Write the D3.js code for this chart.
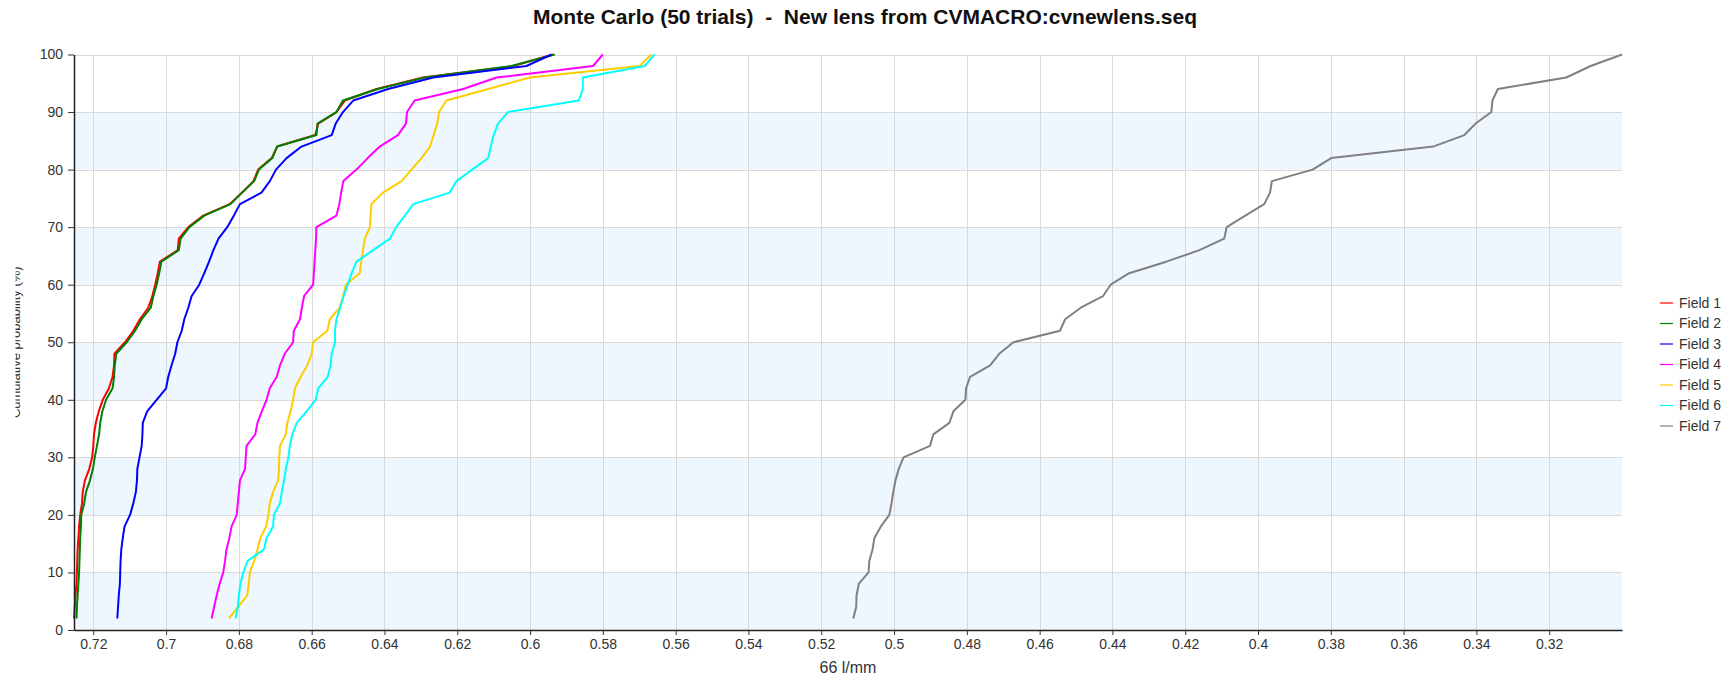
<!DOCTYPE html>
<html>
<head>
<meta charset="utf-8">
<script src="https://cdn.jsdelivr.net/npm/d3@7/dist/d3.min.js"></script>
<style>
  html, body { margin: 0; padding: 0; background: #ffffff; }
  svg text { font-family: "Liberation Sans", Arial, Helvetica, sans-serif; }
</style>
</head>
<body>
<svg id="chart" width="1730" height="681"></svg>
<script>
// Cumulative probability levels (%) for the 50 Monte Carlo trials
const probabilities = d3.range(2, 101, 2);

// MTF at 66 l/mm, sorted by cumulative probability, one array per field
const field1 = [0.7253, 0.7251, 0.7249, 0.7246, 0.7245, 0.7244, 0.7243, 0.7241, 0.7239, 0.7236,
                0.7231, 0.7229, 0.7223, 0.7211, 0.7203, 0.7200, 0.7198, 0.7193, 0.7185, 0.7174,
                0.7157, 0.7147, 0.7143, 0.7142, 0.7113, 0.7090, 0.7072, 0.7049, 0.7038, 0.7030,
                0.7023, 0.7017, 0.6968, 0.6965, 0.6939, 0.6898, 0.6825, 0.6792, 0.6760, 0.6747,
                0.6710, 0.6695, 0.6590, 0.6582, 0.6532, 0.6509, 0.6422, 0.6294, 0.6047, 0.5937];
const field2 = [0.7246, 0.7245, 0.7243, 0.7241, 0.7239, 0.7238, 0.7237, 0.7236, 0.7234, 0.7233,
                0.7225, 0.7220, 0.7209, 0.7201, 0.7196, 0.7190, 0.7184, 0.7181, 0.7175, 0.7165,
                0.7147, 0.7143, 0.7141, 0.7137, 0.7108, 0.7085, 0.7067, 0.7042, 0.7035, 0.7026,
                0.7019, 0.7013, 0.6965, 0.6960, 0.6936, 0.6895, 0.6823, 0.6791, 0.6758, 0.6745,
                0.6708, 0.6695, 0.6587, 0.6584, 0.6532, 0.6514, 0.6418, 0.6289, 0.6051, 0.5932];
const field3 = [0.7134, 0.7132, 0.7130, 0.7127, 0.7126, 0.7125, 0.7123, 0.7119, 0.7114, 0.7099,
                0.7090, 0.7083, 0.7080, 0.7079, 0.7073, 0.7067, 0.7065, 0.7064, 0.7052, 0.7026,
                0.7000, 0.6994, 0.6985, 0.6975, 0.6969, 0.6957, 0.6950, 0.6939, 0.6930, 0.6909,
                0.6895, 0.6882, 0.6870, 0.6856, 0.6832, 0.6814, 0.6797, 0.6738, 0.6715, 0.6698,
                0.6669, 0.6628, 0.6545, 0.6534, 0.6514, 0.6486, 0.6390, 0.6266, 0.6010, 0.5941];
const field4 = [0.6875, 0.6868, 0.6861, 0.6853, 0.6843, 0.6838, 0.6834, 0.6826, 0.6820, 0.6806,
                0.6803, 0.6800, 0.6797, 0.6783, 0.6781, 0.6779, 0.6755, 0.6749, 0.6737, 0.6724,
                0.6715, 0.6696, 0.6687, 0.6674, 0.6651, 0.6649, 0.6632, 0.6627, 0.6621, 0.6596,
                0.6594, 0.6592, 0.6590, 0.6588, 0.6587, 0.6532, 0.6524, 0.6519, 0.6513, 0.6477,
                0.6446, 0.6413, 0.6363, 0.6341, 0.6338, 0.6317, 0.6184, 0.6092, 0.5827, 0.5800];
const field5 = [0.6827, 0.6802, 0.6777, 0.6773, 0.6770, 0.6758, 0.6749, 0.6741, 0.6725, 0.6719,
                0.6715, 0.6706, 0.6692, 0.6690, 0.6689, 0.6687, 0.6671, 0.6667, 0.6658, 0.6651,
                0.6646, 0.6630, 0.6612, 0.6600, 0.6596, 0.6557, 0.6550, 0.6523, 0.6514, 0.6506,
                0.6468, 0.6464, 0.6459, 0.6454, 0.6440, 0.6438, 0.6436, 0.6404, 0.6353, 0.6326,
                0.6298, 0.6275, 0.6265, 0.6255, 0.6250, 0.6230, 0.6115, 0.6001, 0.5699, 0.5667];
const field6 = [0.6809, 0.6803, 0.6800, 0.6796, 0.6788, 0.6776, 0.6731, 0.6724, 0.6706, 0.6704,
                0.6687, 0.6682, 0.6676, 0.6671, 0.6664, 0.6660, 0.6653, 0.6641, 0.6614, 0.6589,
                0.6582, 0.6556, 0.6548, 0.6545, 0.6536, 0.6536, 0.6532, 0.6522, 0.6512, 0.6501,
                0.6490, 0.6477, 0.6431, 0.6385, 0.6368, 0.6344, 0.6321, 0.6221, 0.6202, 0.6159,
                0.6115, 0.6108, 0.6100, 0.6088, 0.6061, 0.5866, 0.5855, 0.5855, 0.5685, 0.5658];
const field7 = [0.5112, 0.5104, 0.5103, 0.5097, 0.5070, 0.5068, 0.5059, 0.5054, 0.5036, 0.5013,
                0.5007, 0.5002, 0.4996, 0.4987, 0.4974, 0.4901, 0.4892, 0.4848, 0.4837, 0.4804,
                0.4802, 0.4791, 0.4736, 0.4711, 0.4672, 0.4544, 0.4530, 0.4487, 0.4426, 0.4405,
                0.4354, 0.4252, 0.4161, 0.4093, 0.4086, 0.4035, 0.3983, 0.3967, 0.3962, 0.3850,
                0.3799, 0.3519, 0.3433, 0.3402, 0.3359, 0.3356, 0.3341, 0.3153, 0.3086, 0.3000];

const seriesNames = ["Field 1", "Field 2", "Field 3", "Field 4", "Field 5", "Field 6", "Field 7"];
const seriesColors = ["#ff0000", "#008000", "#0000ff", "#ff00ff", "#ffcc00", "#00ffff", "#808080"];
const seriesValues = [field1, field2, field3, field4, field5, field6, field7];

const xTickValues = [0.72, 0.70, 0.68, 0.66, 0.64, 0.62, 0.60, 0.58, 0.56, 0.54, 0.52,
                     0.50, 0.48, 0.46, 0.44, 0.42, 0.40, 0.38, 0.36, 0.34, 0.32];
const yTickValues = [0, 10, 20, 30, 40, 50, 60, 70, 80, 90, 100];

const titleText = "Monte Carlo (50 trials)  -  New lens from CVMACRO:cvnewlens.seq";
const xTitle = "66 l/mm";
const yTitle = "Cumulative probability (%)";

// ---- layout ----
const plot = { left: 74, right: 1622, top: 54.5, bottom: 630 };
const svg = d3.select("#chart");

const allValues = seriesValues.flat();
const x = d3.scaleLinear()
  .domain([d3.max(allValues), d3.min(allValues)])   // MTF decreases to the right
  .range([plot.left, plot.right]);
const y = d3.scaleLinear().domain([0, 100]).range([plot.bottom, plot.top]);

// alternating horizontal bands
const bandStarts = yTickValues.filter(v => v < 100 && (v / 10) % 2 === 0);
svg.append("g").selectAll("rect").data(bandStarts).join("rect")
  .attr("x", plot.left)
  .attr("width", plot.right - plot.left)
  .attr("y", d => y(d + 10))
  .attr("height", d => y(d) - y(d + 10))
  .attr("fill", "#eef6fe");

// grid lines
const grid = svg.append("g").attr("stroke", "#d9d9d9").attr("stroke-width", 1).attr("shape-rendering", "crispEdges");
grid.selectAll("line.v").data(xTickValues).join("line").attr("class", "v")
  .attr("x1", d => Math.round(x(d)) + 0.5).attr("x2", d => Math.round(x(d)) + 0.5)
  .attr("y1", plot.top).attr("y2", plot.bottom);
grid.selectAll("line.h").data(yTickValues.filter(v => v > 0)).join("line").attr("class", "h")
  .attr("x1", plot.left).attr("x2", plot.right)
  .attr("y1", d => Math.round(y(d)) + 0.5).attr("y2", d => Math.round(y(d)) + 0.5);

// series lines
const line = d3.line()
  .x(d => x(d.value))
  .y(d => y(d.p));
const lines = svg.append("g").attr("fill", "none").attr("stroke-width", 2).attr("stroke-linejoin", "round");
seriesValues.forEach((vals, i) => {
  const pts = vals.map((v, k) => ({ value: v, p: probabilities[k] }));
  lines.append("path").datum(pts)
    .attr("stroke", seriesColors[i])
    .attr("d", line);
});

// axes
const fmt = d3.format("~g");
const xAxis = svg.append("g")
  .attr("transform", `translate(0,${plot.bottom})`)
  .call(d3.axisBottom(x).tickValues(xTickValues).tickFormat(fmt).tickSize(5).tickSizeOuter(0).tickPadding(4));
const yAxis = svg.append("g")
  .attr("transform", `translate(${plot.left},0)`)
  .call(d3.axisLeft(y).tickValues(yTickValues).tickSize(6).tickSizeOuter(0).tickPadding(5));

[xAxis, yAxis].forEach(g => {
  g.select(".domain").attr("stroke", "#222").attr("stroke-width", 1.5);
  g.selectAll(".tick line").attr("stroke", "#333");
  g.selectAll(".tick text").attr("fill", "#333").style("font-size", "14px")
    .style("font-family", "'Liberation Sans', Arial, sans-serif");
});

// title
svg.append("text")
  .attr("x", 865).attr("y", 24)
  .attr("text-anchor", "middle")
  .style("font-size", "21px").style("font-weight", "bold").style("white-space", "pre")
  .attr("fill", "#111")
  .text(titleText);

// x axis title
svg.append("text")
  .attr("x", (plot.left + plot.right) / 2).attr("y", 673)
  .attr("text-anchor", "middle")
  .style("font-size", "16px").attr("fill", "#333")
  .text(xTitle);

// y axis title, its upper half cut by the left margin
svg.append("clipPath").attr("id", "ytitle-clip")
  .append("rect").attr("x", 15.5).attr("y", 0).attr("width", 40).attr("height", 681);
svg.append("g").attr("clip-path", "url(#ytitle-clip)")
  .append("text")
  .attr("transform", `translate(19.5,${(plot.top + plot.bottom) / 2}) rotate(-90)`)
  .attr("text-anchor", "middle")
  .style("font-size", "13px").attr("fill", "#333")
  .text(yTitle);

// legend
const legend = svg.append("g").attr("transform", "translate(1660,303)");
const items = legend.selectAll("g").data(seriesNames).join("g")
  .attr("transform", (d, i) => `translate(0,${i * 20.5})`);
items.append("line")
  .attr("x1", 0).attr("x2", 13).attr("y1", 0).attr("y2", 0)
  .attr("stroke", (d, i) => seriesColors[i]).attr("stroke-width", 1.2);
items.append("text")
  .attr("x", 19).attr("y", 0).attr("dy", "0.35em")
  .style("font-size", "14px").attr("fill", "#333")
  .text(d => d);
</script>
</body>
</html>
